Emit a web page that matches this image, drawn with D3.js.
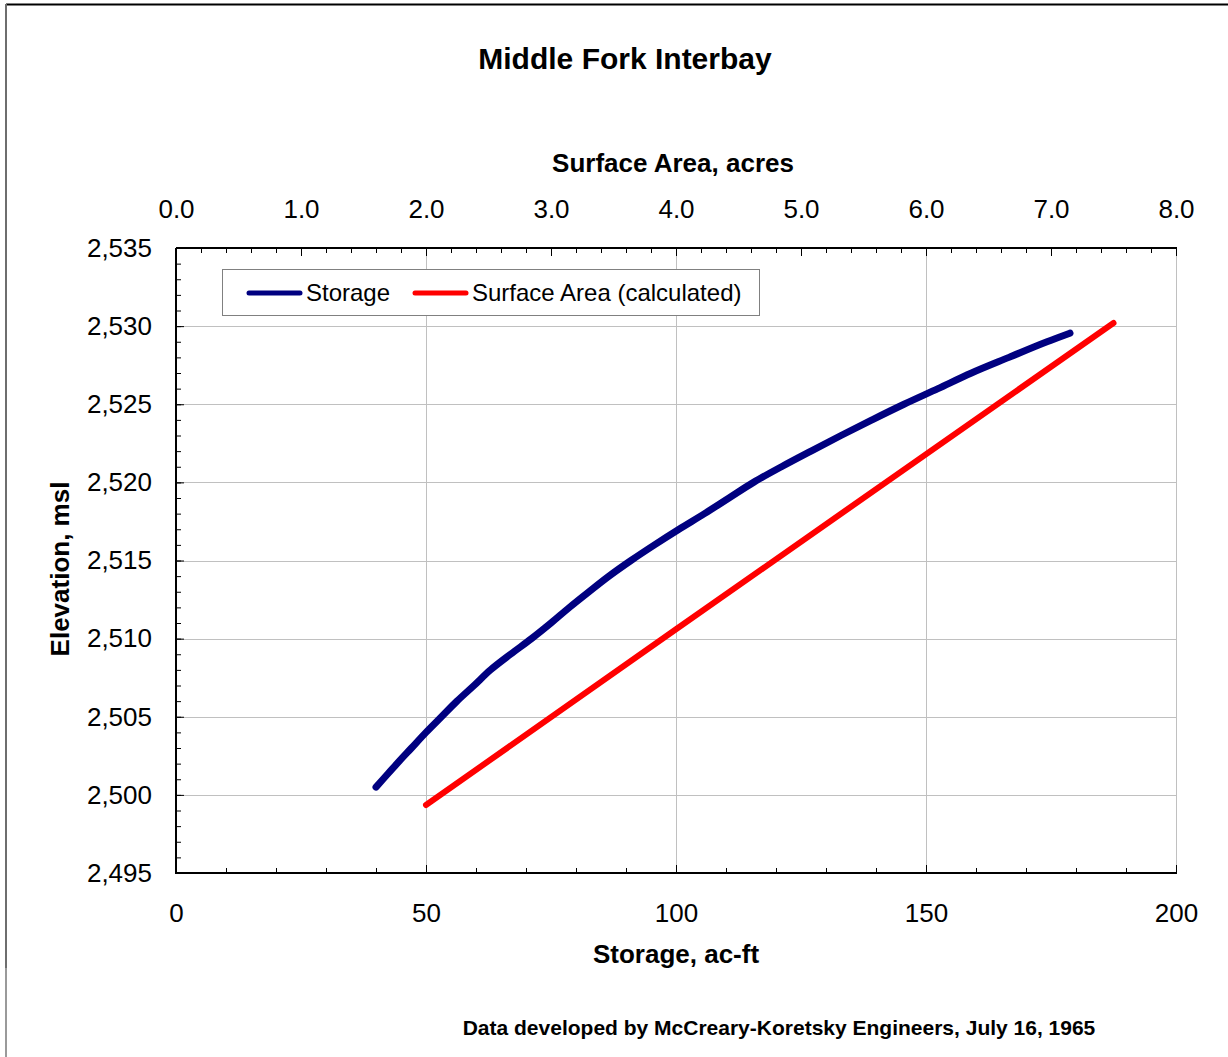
<!DOCTYPE html>
<html>
<head>
<meta charset="utf-8">
<script src="https://cdn.jsdelivr.net/npm/d3@7"></script>
<style>
  html, body { margin: 0; padding: 0; background: #fff; }
  svg { display: block; font-family: "Liberation Sans", Arial, sans-serif; }
</style>
</head>
<body>
<svg id="chart" width="1228" height="1057"></svg>
<script>
// ---- Data ----
const storageAcFt = [40.0, 41.4, 44.2, 47.1, 50.0, 53.1, 56.2, 59.6, 62.9, 66.9, 71.1, 75.0, 78.7, 82.6, 86.6, 91.0, 95.7, 100.6, 105.7, 110.6, 115.5, 121.1, 127.0, 133.0, 139.2, 145.6, 152.4, 159.1, 166.6, 174.2, 178.8];
const storageElev = [2500.5, 2501, 2502, 2503, 2504, 2505, 2506, 2507, 2508, 2509, 2510, 2511, 2512, 2513, 2514, 2515, 2516, 2517, 2518, 2519, 2520, 2521, 2522, 2523, 2524, 2525, 2526, 2527, 2528, 2529, 2529.55];

const areaAcres = [2.0, 4.0, 7.5];
const areaElev = [2499.35, 2510.6, 2530.2];

const bottomTicks = [0, 50, 100, 150, 200];
const topTicks = [0, 1, 2, 3, 4, 5, 6, 7, 8];
const leftTicks = [2495, 2500, 2505, 2510, 2515, 2520, 2525, 2530, 2535];

const titleText = "Middle Fork Interbay";
const topAxisTitle = "Surface Area, acres";
const bottomAxisTitle = "Storage, ac-ft";
const leftAxisTitle = "Elevation, msl";
const footnote = "Data developed by McCreary-Koretsky Engineers, July 16, 1965";
const seriesNames = ["Storage", "Surface Area (calculated)"];

// ---- Layout ----
const svg = d3.select("#chart");
const plot = { left: 176, right: 1176, top: 248, bottom: 873 };

const x = d3.scaleLinear().domain([0, 200]).range([plot.left, plot.right]);
const x2 = d3.scaleLinear().domain([0, 8]).range([plot.left, plot.right]);
const y = d3.scaleLinear().domain([2495, 2535]).range([plot.bottom, plot.top]);

// outer frame
svg.append("line").attr("x1", 6).attr("x2", 1228).attr("y1", 4.5).attr("y2", 4.5)
  .attr("stroke", "#000").attr("stroke-width", 2);
svg.append("line").attr("x1", 6).attr("x2", 6).attr("y1", 4).attr("y2", 968)
  .attr("stroke", "#6e6e6e").attr("stroke-width", 2);
svg.append("line").attr("x1", 6).attr("x2", 6).attr("y1", 968).attr("y2", 1057)
  .attr("stroke", "#9a9a9a").attr("stroke-width", 2);

// gridlines
const gridColor = "#c0c0c0";
svg.append("g").selectAll("line").data([50, 100, 150]).join("line")
  .attr("x1", d => Math.round(x(d)) + 0.5).attr("x2", d => Math.round(x(d)) + 0.5)
  .attr("y1", plot.top).attr("y2", plot.bottom)
  .attr("stroke", gridColor).attr("stroke-width", 1);
svg.append("g").selectAll("line").data(leftTicks.slice(1, -1)).join("line")
  .attr("x1", plot.left).attr("x2", plot.right)
  .attr("y1", d => Math.round(y(d)) + 0.5).attr("y2", d => Math.round(y(d)) + 0.5)
  .attr("stroke", gridColor).attr("stroke-width", 1);

// right border (gray)
svg.append("line").attr("x1", plot.right + 0.5).attr("x2", plot.right + 0.5)
  .attr("y1", plot.top).attr("y2", plot.bottom).attr("stroke", gridColor);

// axes via d3
const tickFont = 26;
const bottomMinor = d3.axisBottom(x).tickValues(d3.range(0, 201, 10)).tickSize(-5).tickFormat("");
const gBm = svg.append("g").attr("transform", `translate(0,${plot.bottom})`).call(bottomMinor);
const bottomMajor = d3.axisBottom(x).tickValues(bottomTicks).tickSize(-8).tickPadding(31)
  .tickFormat(d3.format("d"));
const gB = svg.append("g").attr("transform", `translate(0,${plot.bottom})`).call(bottomMajor);

const leftMinor = d3.axisLeft(y).tickValues(d3.range(2495, 2536, 1)).tickSize(-5).tickFormat("");
const gLm = svg.append("g").attr("transform", `translate(${plot.left},0)`).call(leftMinor);
const leftMajor = d3.axisLeft(y).tickValues(leftTicks).tickSize(-8).tickPadding(24)
  .tickFormat(d3.format(","));
const gL = svg.append("g").attr("transform", `translate(${plot.left},0)`).call(leftMajor);

const topMinor = d3.axisTop(x2).tickValues(d3.range(0, 41).map(i => i * 0.2)).tickSize(-5).tickFormat("");
const gTm = svg.append("g").attr("transform", `translate(0,${plot.top})`).call(topMinor);
const topMajor = d3.axisTop(x2).tickValues(topTicks).tickSize(-8).tickPadding(30)
  .tickFormat(d3.format(".1f"));
const gT = svg.append("g").attr("transform", `translate(0,${plot.top})`).call(topMajor);

[gBm, gB, gLm, gL, gTm, gT].forEach(g => {
  g.select(".domain").remove();
  g.selectAll(".tick line").attr("stroke", "#000").attr("stroke-width", 1);
  g.selectAll("text").attr("font-size", tickFont).attr("fill", "#000")
    .attr("font-family", "'Liberation Sans', Arial, sans-serif");
});

// axis lines
svg.append("line").attr("x1", plot.left).attr("x2", plot.right + 1).attr("y1", plot.bottom).attr("y2", plot.bottom)
  .attr("stroke", "#000").attr("stroke-width", 2);
svg.append("line").attr("x1", plot.left).attr("x2", plot.left).attr("y1", plot.top).attr("y2", plot.bottom + 1)
  .attr("stroke", "#000").attr("stroke-width", 2);
svg.append("line").attr("x1", plot.left).attr("x2", plot.right + 1).attr("y1", plot.top).attr("y2", plot.top)
  .attr("stroke", "#000").attr("stroke-width", 2);

// series
const storageData = storageAcFt.map((v, i) => ({ v, e: storageElev[i] }));
const areaData = areaAcres.map((v, i) => ({ v, e: areaElev[i] }));

svg.append("path").datum(storageData)
  .attr("d", d3.line().x(d => x(d.v)).y(d => y(d.e)).curve(d3.curveMonotoneY))
  .attr("fill", "none").attr("stroke", "#000080").attr("stroke-width", 7)
  .attr("stroke-linecap", "round").attr("stroke-linejoin", "round");

svg.append("path").datum(areaData)
  .attr("d", d3.line().x(d => x2(d.v)).y(d => y(d.e)))
  .attr("fill", "none").attr("stroke", "#ff0000").attr("stroke-width", 6)
  .attr("stroke-linecap", "round").attr("stroke-linejoin", "round");

// legend
const lg = svg.append("g");
lg.append("rect").attr("x", 222.5).attr("y", 269.5).attr("width", 537).attr("height", 46)
  .attr("fill", "#fff").attr("stroke", "#808080").attr("stroke-width", 1);
const legendItems = [
  { name: seriesNames[0], color: "#000080", x1: 249, x2: 300, tx: 306 },
  { name: seriesNames[1], color: "#ff0000", x1: 415, x2: 466, tx: 472 }
];
legendItems.forEach(it => {
  lg.append("line").attr("x1", it.x1).attr("x2", it.x2).attr("y1", 293).attr("y2", 293)
    .attr("stroke", it.color).attr("stroke-width", 5).attr("stroke-linecap", "round");
  lg.append("text").attr("x", it.tx).attr("y", 293).attr("dy", "0.35em")
    .attr("font-size", 24).text(it.name);
});

// texts
svg.append("text").attr("x", 625).attr("y", 58).attr("dy", "0.35em").attr("text-anchor", "middle")
  .attr("font-size", 30).attr("font-weight", "bold").text(titleText);
svg.append("text").attr("x", 673).attr("y", 163).attr("dy", "0.35em").attr("text-anchor", "middle")
  .attr("font-size", 26).attr("font-weight", "bold").text(topAxisTitle);
svg.append("text").attr("x", 676).attr("y", 954).attr("dy", "0.35em").attr("text-anchor", "middle")
  .attr("font-size", 26).attr("font-weight", "bold").text(bottomAxisTitle);
svg.append("text").attr("transform", "translate(60,569) rotate(-90)").attr("dy", "0.35em")
  .attr("text-anchor", "middle").attr("font-size", 26).attr("font-weight", "bold").text(leftAxisTitle);
svg.append("text").attr("x", 779).attr("y", 1028).attr("dy", "0.35em").attr("text-anchor", "middle")
  .attr("font-size", 21).attr("font-weight", "bold").text(footnote);
</script>
</body>
</html>
